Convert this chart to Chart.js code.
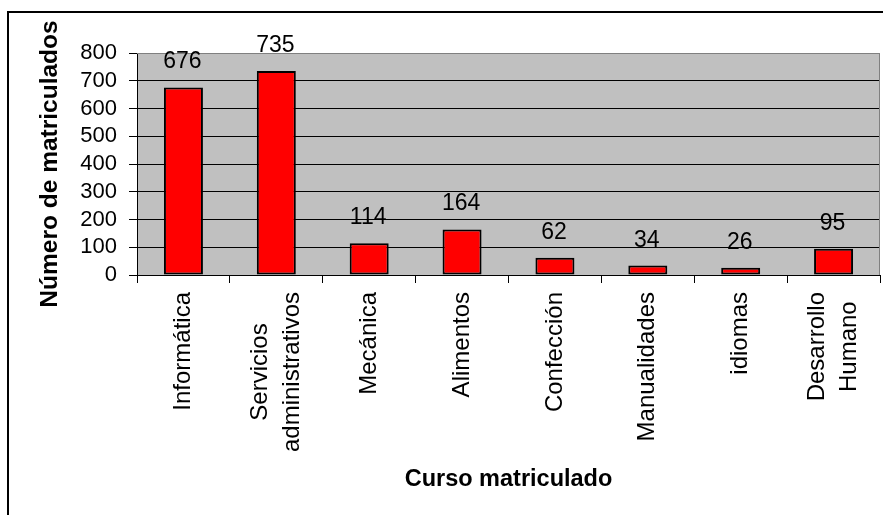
<!DOCTYPE html>
<html lang="es">
<head>
  <meta charset="UTF-8" />
  <title>Curso matriculado</title>
  <script src="https://cdn.jsdelivr.net/npm/chart.js"></script>
  <style>
    body { margin: 0; background: white; }
    canvas { display: block; }
  </style>
</head>
<body>
  <canvas id="chart" width="883" height="515"></canvas>

  <script>
    const cursos = [
      ['Informática'],
      ['Servicios', 'administrativos'],
      ['Mecánica'],
      ['Alimentos'],
      ['Confección'],
      ['Manualidades'],
      ['idiomas'],
      ['Desarrollo', 'Humano']
    ];
    const matriculados = [676, 735, 114, 164, 62, 34, 26, 95];
    const yTicks = [0, 100, 200, 300, 400, 500, 600, 700, 800];

    const FONT = "'Liberation Sans', Arial, sans-serif";

    // marco exterior, fondo gris del área de trazado, etiquetas
    const decor = {
      id: 'decor',
      beforeDraw(chart) {
        const { ctx, chartArea: a } = chart;
        ctx.save();
        ctx.fillStyle = '#c0c0c0';
        ctx.fillRect(a.left, a.top, a.right - a.left, a.bottom - a.top);
        ctx.strokeStyle = '#000';
        ctx.lineWidth = 2;
        ctx.strokeRect(8, 12, 1000, 1000);
        ctx.restore();
      },
      afterDraw(chart) {
        const { ctx, chartArea: a } = chart;
        const xs = chart.scales.x, ys = chart.scales.y;
        ctx.save();
        // borde superior y derecho del área
        ctx.strokeStyle = '#808080';
        ctx.lineWidth = 1;
        ctx.beginPath();
        ctx.moveTo(a.left, a.top + 0.5);
        ctx.lineTo(a.right - 0.5, a.top + 0.5);
        ctx.lineTo(a.right - 0.5, a.bottom);
        ctx.stroke();

        // valores sobre las barras
        ctx.fillStyle = '#000';
        ctx.font = '23px ' + FONT;
        ctx.textAlign = 'center';
        ctx.textBaseline = 'alphabetic';
        matriculados.forEach((v, i) => {
          ctx.fillText(String(v), xs.getPixelForValue(i) - 1, ys.getPixelForValue(v) - 19);
        });

        // etiquetas del eje x, giradas
        ctx.font = '24px ' + FONT;
        ctx.textBaseline = 'middle';
        const top = 292, lh = 32;
        cursos.forEach((lines, i) => {
          const maxW = Math.max(...lines.map(l => ctx.measureText(l).width));
          ctx.save();
          ctx.translate(xs.getPixelForValue(i), top);
          ctx.rotate(-Math.PI / 2);
          lines.forEach((l, k) => {
            ctx.fillText(l, -maxW / 2, (k - (lines.length - 1) / 2) * lh);
          });
          ctx.restore();
        });
        ctx.restore();
      }
    };

    new Chart(document.getElementById('chart'), {
      type: 'bar',
      data: {
        labels: cursos,
        datasets: [{
          data: matriculados,
          backgroundColor: '#ff0000',
          borderColor: '#000',
          borderWidth: 2,
          borderSkipped: false,
          categoryPercentage: 1,
          barPercentage: 0.42
        }]
      },
      options: {
        responsive: false,
        animation: false,
        devicePixelRatio: 1,
        layout: { padding: { left: 20, top: 53, right: 3, bottom: 0 } },
        plugins: { legend: { display: false }, tooltip: { enabled: false } },
        scales: {
          x: {
            afterFit: s => { s.height = 240; },
            grid: { offset: true, drawOnChartArea: false, drawTicks: true, tickLength: 8, color: '#000' },
            border: { color: '#000', width: 1 },
            ticks: { display: false },
            title: {
              display: true, text: 'Curso matriculado', color: '#000',
              font: { family: FONT, size: 23.5, weight: 'bold' },
              padding: { top: 0, bottom: 21 }
            }
          },
          y: {
            min: 0, max: 800,
            afterFit: s => { s.width = 117; },
            afterBuildTicks: s => { s.ticks = yTicks.map(v => ({ value: v })); },
            grid: {
              color: ctx => ctx.tick && ctx.tick.value === 800 ? '#808080' : '#000',
              tickColor: '#000', tickLength: 8
            },
            border: { color: '#000', width: 1 },
            ticks: {
              autoSkip: false, padding: 12, color: '#000',
              font: { family: FONT, size: 22 }
            },
            title: {
              display: true, text: 'Número de matriculados', color: '#000',
              font: { family: FONT, size: 24.5, weight: 'bold' },
              padding: { top: 16, bottom: 0 }
            }
          }
        }
      },
      plugins: [decor]
    });
  </script>
</body>
</html>
